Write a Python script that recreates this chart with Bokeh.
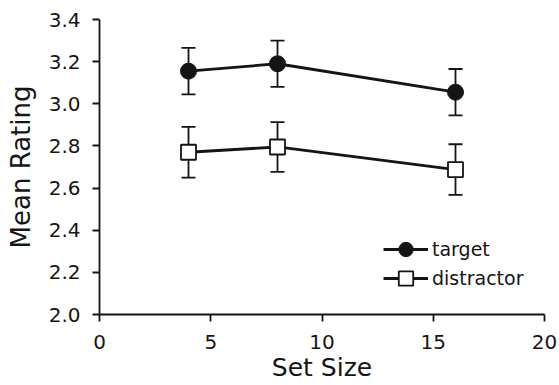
from bokeh.plotting import figure
from bokeh.models import ColumnDataSource, Whisker, TeeHead, Legend, LegendItem, Range1d, FixedTicker
from bokeh.embed import file_html
from bokeh.resources import INLINE

set_size = [4, 8, 16]
target_mean = [3.155, 3.19, 3.055]
target_err = [0.11, 0.11, 0.11]
distractor_mean = [2.77, 2.795, 2.688]
distractor_err = [0.12, 0.118, 0.12]
x_ticks = [0, 5, 10, 15, 20]
y_ticks = [2.0, 2.2, 2.4, 2.6, 2.8, 3.0, 3.2, 3.4]

INK = "#151515"
FONT = "DejaVu Sans"

p = figure(width=559, height=385, output_backend="svg", toolbar_location=None,
           x_range=Range1d(0, 20), y_range=Range1d(2.0, 3.4),
           min_border_left=99, min_border_right=15, min_border_top=19, min_border_bottom=71)
p.outline_line_color = None
p.xgrid.visible = False
p.ygrid.visible = False
p.background_fill_color = "white"

def src(mean, err):
    return ColumnDataSource(dict(x=set_size, y=mean,
                                 upper=[m + e for m, e in zip(mean, err)],
                                 lower=[m - e for m, e in zip(mean, err)]))

s_t = src(target_mean, target_err)
s_d = src(distractor_mean, distractor_err)

for s in (s_t, s_d):
    w = Whisker(source=s, base="x", upper="upper", lower="lower",
                line_color=INK, line_width=1.8,
                upper_head=TeeHead(size=14, line_color=INK, line_width=1.8),
                lower_head=TeeHead(size=14, line_color=INK, line_width=1.8))
    p.add_layout(w)

lt = p.line("x", "y", source=s_t, line_color=INK, line_width=2.8)
mt = p.scatter("x", "y", source=s_t, marker="circle", size=16, fill_color=INK, line_color=INK)
ld = p.line("x", "y", source=s_d, line_color=INK, line_width=2.8)
md = p.scatter("x", "y", source=s_d, marker="square", size=15, fill_color="white",
               line_color=INK, line_width=1.8)

def make_legend(label, renderers, loc):
    return Legend(items=[LegendItem(label=label, renderers=renderers)],
                  location=loc, padding=0, margin=0, spacing=0,
                  glyph_width=45, glyph_height=36, label_standoff=4,
                  label_text_font=FONT, label_text_font_size="19px", label_text_color=INK,
                  background_fill_alpha=0, border_line_color=None)

p.add_layout(make_legend("target", [lt, mt], (284, 47)))
p.add_layout(make_legend("distractor", [ld, md], (284, 18)))

for ax in (p.xaxis[0], p.yaxis[0]):
    ax.axis_line_color = INK
    ax.axis_line_width = 1.8
    ax.major_tick_line_color = INK
    ax.major_tick_line_width = 1.8
    ax.major_tick_out = 7
    ax.major_tick_in = 0
    ax.minor_tick_line_color = None
    ax.major_label_text_font = FONT
    ax.major_label_text_font_size = "20px"
    ax.major_label_text_color = INK
    ax.axis_label_text_font = FONT
    ax.axis_label_text_font_style = "normal"
    ax.axis_label_text_color = INK

p.xaxis.ticker = FixedTicker(ticks=x_ticks)
p.yaxis.ticker = FixedTicker(ticks=y_ticks)
p.yaxis.major_label_overrides = {v: f"{v:.1f}" for v in y_ticks}
p.xaxis.axis_label = "Set Size"
p.yaxis.axis_label = "Mean Rating"
p.xaxis.axis_label_text_font_size = "25px"
p.yaxis.axis_label_text_font_size = "26px"
p.xaxis.major_label_standoff = 13
p.yaxis.major_label_standoff = 12
p.xaxis.axis_label_standoff = 1
p.yaxis.axis_label_standoff = 10

open("out.html", "w").write(file_html(p, INLINE))
